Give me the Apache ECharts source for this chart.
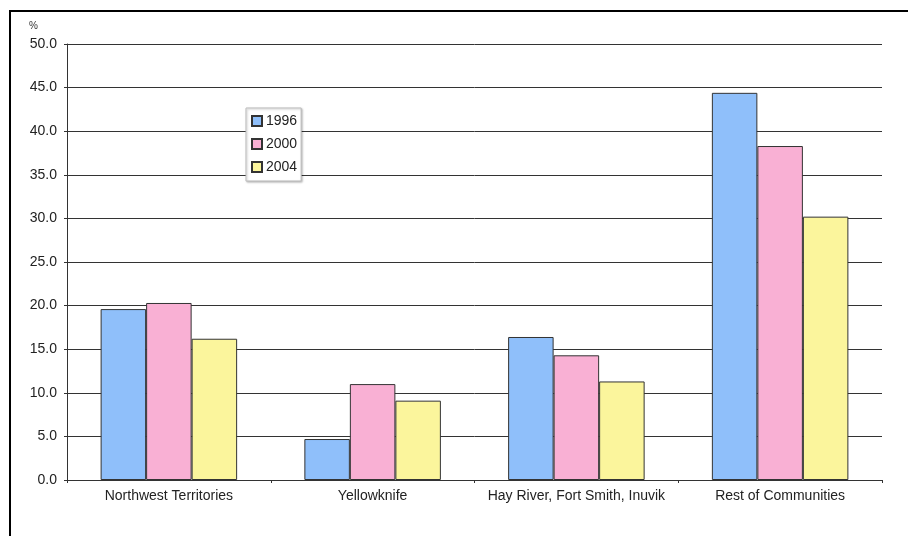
<!DOCTYPE html>
<html>
<head>
<meta charset="utf-8">
<script src="https://cdn.jsdelivr.net/npm/echarts@6/dist/echarts.min.js"></script>
<style>
html,body{margin:0;padding:0;background:#fff;}
#c{width:908px;height:536px;}
</style>
</head>
<body>
<div id="c"></div>
<script>
const categories = ['Northwest Territories', 'Yellowknife', 'Hay River, Fort Smith, Inuvik', 'Rest of Communities'];
const years = ['1996', '2000', '2004'];
const values1996 = [19.6, 4.7, 16.4, 44.4];
const values2000 = [20.3, 11.0, 14.3, 38.3];
const values2004 = [16.2, 9.1, 11.3, 30.2];
const yTicks = { min: 0, max: 50, interval: 5 };

const colors = ['#8fbffa', '#f9b0d4', '#fbf59c'];
const seriesData = [values1996, values2000, values2004];

const chart = echarts.init(document.getElementById('c'), null, { renderer: 'canvas' });
const font = 'Liberation Sans, Arial, sans-serif';
chart.setOption({
  animation: false,
  backgroundColor: '#fff',
  textStyle: { fontFamily: font },
  title: {
    text: '%', left: 29, top: 21, padding: 0,
    textStyle: { fontSize: 10, fontWeight: 'normal', color: '#333', fontFamily: font }
  },
  graphic: [
    { type: 'line', shape: { x1: 9, y1: 11, x2: 908, y2: 11 }, style: { stroke: '#000', lineWidth: 2 } },
    { type: 'line', shape: { x1: 10, y1: 10, x2: 10, y2: 536 }, style: { stroke: '#000', lineWidth: 2 } }
  ],
  grid: { left: 67, right: 26, top: 44, bottom: 56, containLabel: false },
  legend: {
    data: years,
    orient: 'vertical',
    left: 246, top: 108,
    itemWidth: 10, itemHeight: 10, itemGap: 9,
    padding: [6, 4, 7, 5],
    backgroundColor: '#fff',
    borderColor: '#bbb', borderWidth: 1,
    shadowColor: 'rgba(0,0,0,0.25)', shadowBlur: 2, shadowOffsetX: 1, shadowOffsetY: 1,
    icon: 'rect',
    textStyle: { fontSize: 14, color: '#222', fontFamily: font, padding: [0, 0, 0, -1] }
  },
  xAxis: {
    type: 'category',
    data: categories,
    axisLine: { lineStyle: { color: '#333', width: 1 } },
    axisTick: { show: true, interval: 0, length: 3, lineStyle: { color: '#333' } },
    axisLabel: { fontSize: 14, color: '#222', margin: 9, interval: 0, fontFamily: font }
  },
  yAxis: {
    type: 'value',
    min: yTicks.min, max: yTicks.max, interval: yTicks.interval,
    axisLine: { show: true, lineStyle: { color: '#333', width: 1 } },
    axisTick: { show: true, length: 3, lineStyle: { color: '#333' } },
    axisLabel: { fontSize: 14, color: '#222', margin: 10, fontFamily: font, formatter: v => v.toFixed(1) },
    splitLine: { show: true, lineStyle: { color: '#333', width: 1 } }
  },
  series: years.map((y, i) => ({
    name: y,
    type: 'bar',
    data: seriesData[i],
    barGap: '0%',
    barCategoryGap: '33%',
    itemStyle: { color: colors[i], borderColor: '#333', borderWidth: 1 }
  }))
});
</script>
</body>
</html>
